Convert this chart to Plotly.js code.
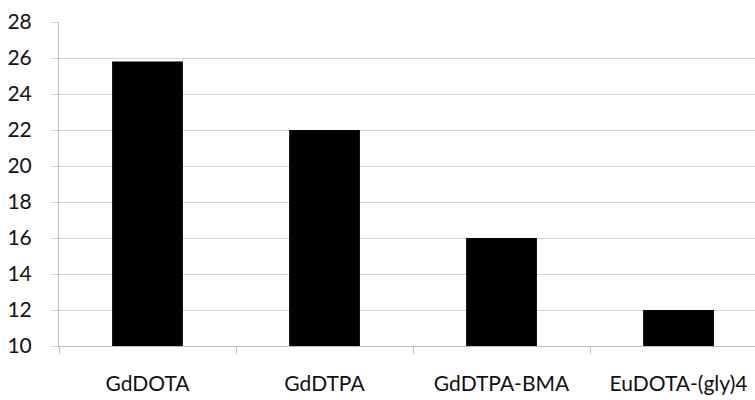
<!DOCTYPE html>
<html>
<head>
<meta charset="utf-8">
<script src="https://cdn.plot.ly/plotly-3.0.1.min.js"></script>
<style>
  html, body { margin: 0; padding: 0; background: #fff; }
  #chart { width: 755px; height: 400px; }
</style>
</head>
<body>
<div id="chart"></div>
<script>
// Complexes and their measured values
const categories = ["GdDOTA", "GdDTPA", "GdDTPA-BMA", "EuDOTA-(gly)4"];
const values = [25.8, 22, 16, 12];
const yTicks = [10, 12, 14, 16, 18, 20, 22, 24, 26, 28];

const trace = {
  type: "bar",
  x: categories,
  y: values,
  width: 0.4,
  marker: { color: "#000000", line: { width: 0 } },
  hoverinfo: "x+y"
};

const layout = {
  width: 755,
  height: 400,
  margin: { l: 59, r: 0, t: 22, b: 54 },
  paper_bgcolor: "#ffffff",
  plot_bgcolor: "#ffffff",
  showlegend: false,
  font: { family: "Lato, 'Open Sans', sans-serif", size: 21, color: "#111111" },
  xaxis: {
    type: "category",
    range: [-0.5, 3.432],
    tickson: "boundaries",
    ticks: "outside",
    ticklen: 7,
    tickcolor: "#bdbdbd",
    tickwidth: 1,
    showgrid: false,
    showline: true,
    linecolor: "#bdbdbd",
    linewidth: 1,
    ticklabelstandoff: 19,
    tickfont: { size: 21 },
    fixedrange: true
  },
  yaxis: {
    range: [10, 28],
    tickvals: yTicks,
    ticks: "outside",
    ticklen: 7,
    tickcolor: "#d4d4d4",
    showgrid: true,
    gridcolor: "#d4d4d4",
    gridwidth: 1,
    zeroline: false,
    showline: true,
    linecolor: "#bdbdbd",
    linewidth: 1,
    ticklabelstandoff: 15,
    tickfont: { size: 21 },
    fixedrange: true
  }
};

Plotly.newPlot("chart", [trace], layout, { displayModeBar: false, staticPlot: true });
</script>
</body>
</html>
